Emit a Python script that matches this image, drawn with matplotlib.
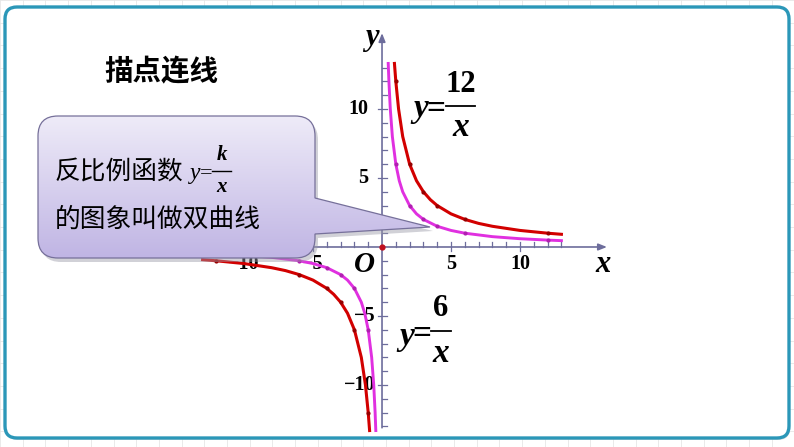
import matplotlib.pyplot as plt
import numpy as np
from matplotlib.patches import FancyBboxPatch, PathPatch
from matplotlib.path import Path

# curve readings (positive branch; negative branch is the mirror)
red_x = [0.9, 1, 1.2, 1.5, 2, 2.5, 3, 3.5, 4, 5, 6, 7, 8, 10, 12, 13]
red_y = [13.3, 12, 10, 8, 6, 4.8, 4, 3.43, 3, 2.4, 2, 1.71, 1.5, 1.2, 1, 0.92]
mag_x = [0.45, 0.5, 0.6, 0.75, 1, 1.25, 1.5, 2, 2.5, 3, 4, 5, 6, 8, 10, 12, 13]
mag_y = [13.3, 12, 10, 8, 6, 4.8, 4, 3, 2.4, 2, 1.5, 1.2, 1, 0.75, 0.6, 0.5, 0.46]
red_dot_x = [1, 2, 3, 4, 6, 12]
red_dot_y = [12, 6, 4, 3, 2, 1]
mag_dot_x = [1, 2, 3, 4, 6, 12]
mag_dot_y = [6, 3, 2, 1.5, 1, 0.5]
tick_vals = list(range(-13, 14))
xlabels = [-10, -5, 5, 10]
ylabels = [10, 5, -5, -10]

RED = '#d20000'
MAG = '#e030e0'
AXC = '#6d6d9c'
SERIF = 'Liberation Serif'
CJK = ['Noto Sans CJK SC', 'DejaVu Sans']

fig = plt.figure(figsize=(7.94, 4.47), dpi=100)

# ---- background (pixel coords) ----
bg = fig.add_axes([0, 0, 1, 1], zorder=0)
bg.set_xlim(0, 794)
bg.set_ylim(447, 0)
bg.axis('off')
for gx in np.arange(0, 794, 22.7):
    bg.axvline(gx, color='#e6e6e6', lw=0.6, zorder=0)
for gy in np.arange(0, 447, 22.7):
    bg.axhline(gy, color='#e6e6e6', lw=0.6, zorder=0)
shadow = FancyBboxPatch((6, 9), 784, 431, boxstyle='round,pad=0,rounding_size=12',
                        facecolor='#c8c8c8', edgecolor='none', alpha=0.6, zorder=1)
bg.add_patch(shadow)
frame = FancyBboxPatch((5, 7), 784, 431, boxstyle='round,pad=0,rounding_size=12',
                       facecolor='white', edgecolor='#2b97b8', lw=2.4, zorder=2)
bg.add_patch(frame)
bg.text(161, 72, '描点连线', family=CJK, fontsize=20.5, fontweight='bold',
        ha='center', va='center', color='black', zorder=3)

# ---- chart (data coords) ----
ax = fig.add_axes([0.2291, 0.0152, 0.5562, 0.9571], zorder=1)
ax.set_xlim(-14.5, 17.5)
ax.set_ylim(-14, 17)
ax.axis('off')

ax.annotate('', xy=(16.5, 0), xytext=(-13.6, 0),
            arrowprops=dict(arrowstyle='-|>,head_length=0.5,head_width=0.2', color=AXC, lw=1.2))
ax.annotate('', xy=(0, 15.7), xytext=(0, -13.3),
            arrowprops=dict(arrowstyle='-|>,head_length=0.5,head_width=0.2', color=AXC, lw=1.2))
for t in tick_vals:
    if t == 0:
        continue
    lo = -0.3 if t % 5 == 0 else 0
    ax.plot([t, t], [lo, 0.36], color=AXC, lw=0.9)
    ax.plot([lo, 0.36], [t, t], color=AXC, lw=0.9)

for v in xlabels:
    lab = str(v).replace('-', '\u2212')
    ax.text(v, -1.2, lab, family=SERIF, fontweight='bold', fontsize=14.5,
            ha='center', va='center')
for v in ylabels:
    lab = str(v).replace('-', '\u2212')
    xr = -1.0 if v > 0 else -0.5
    ax.text(xr, v, lab, family=SERIF, fontweight='bold', fontsize=14.5,
            ha='right', va='center')
ax.text(-1.25, -1.25, 'O', family=SERIF, fontweight='bold', style='italic',
        fontsize=21, ha='center', va='center')
ax.text(16.0, -1.3, 'x', family=SERIF, fontweight='bold', style='italic',
        fontsize=22, ha='center', va='center')
ax.text(-0.75, 15.2, 'y', family=SERIF, fontweight='bold', style='italic',
        fontsize=22, ha='center', va='center')

rx, ry = np.array(red_x), np.array(red_y)
mx, my = np.array(mag_x), np.array(mag_y)
for s in (1, -1):
    ax.plot(s * mx, s * my, color=MAG, lw=2.1, solid_joinstyle='round', zorder=3)
    ax.plot(s * rx, s * ry, color=RED, lw=2.2, solid_joinstyle='round', zorder=3)
    ax.plot(s * np.array(mag_dot_x), s * np.array(mag_dot_y), 'o', color='#b020b0',
            ms=2.0, zorder=4)
    ax.plot(s * np.array(red_dot_x), s * np.array(red_dot_y), 'o', color='#960000',
            ms=2.0, zorder=4)
ax.plot([0], [0], 'o', color='#c01020', ms=3.5, zorder=4)

# ---- overlay (pixel coords) ----
ov = fig.add_axes([0, 0, 1, 1], zorder=2)
ov.set_xlim(0, 794)
ov.set_ylim(447, 0)
ov.axis('off')


def fraction(axh, xc, yc, num, y_gap, fs_y, fs_num, fs_den, bar_x0, bar_w, bar_y):
    axh.text(xc, yc, 'y', family=SERIF, style='italic', fontweight='bold',
             fontsize=fs_y, ha='right', va='center')
    axh.text(xc + 8, bar_y, '=', family=SERIF, fontweight='bold', fontsize=fs_y,
             ha='center', va='center_baseline')
    fx = bar_x0 + bar_w / 2
    axh.plot([bar_x0, bar_x0 + bar_w], [bar_y, bar_y], color='black', lw=1.3)
    axh.text(fx, bar_y - y_gap, num, family=SERIF, fontweight='bold',
             fontsize=fs_num, ha='center', va='center')
    axh.text(fx, bar_y + y_gap, 'x', family=SERIF, style='italic', fontweight='bold',
             fontsize=fs_den, ha='center', va='center')


fraction(ov, 428, 109, '12', 22, 24, 22, 24, 446, 29, 106)
fraction(ov, 414, 336, '6', 22, 24, 22, 24, 431, 20, 331)

# speech bubble
L, R, T, B, r = 38, 315, 116, 258, 20
verts = [(L + r, T), (R - r, T), (R, T), (R, T + r), (R, 198), (430, 227), (R, 234),
         (R, B - r), (R, B), (R - r, B), (L + r, B), (L, B), (L, B - r),
         (L, T + r), (L, T), (L + r, T), (L + r, T)]
codes = [Path.MOVETO, Path.LINETO, Path.CURVE3, Path.CURVE3, Path.LINETO, Path.LINETO,
         Path.LINETO, Path.LINETO, Path.CURVE3, Path.CURVE3, Path.LINETO, Path.CURVE3,
         Path.CURVE3, Path.LINETO, Path.CURVE3, Path.CURVE3, Path.CLOSEPOLY]
bubble = Path(verts, codes)
sh = Path(np.array(verts) + np.array([3, 4]), codes)
ov.add_patch(PathPatch(sh, facecolor='#9a9aa8', edgecolor='none', alpha=0.45))
body = PathPatch(bubble, facecolor='none', edgecolor='none')
ov.add_patch(body)
top_c = np.array([238, 235, 248]) / 255
bot_c = np.array([192, 181, 228]) / 255
t = np.linspace(0, 1, 100)[:, None, None]
grad = top_c * (1 - t) + bot_c * t
grad = np.repeat(grad, 2, axis=1)
im = ov.imshow(grad, extent=(L, 431, B, T), aspect='auto', origin='upper', zorder=2)
im.set_clip_path(body)
ov.add_patch(PathPatch(bubble, facecolor='none', edgecolor='#76709a', lw=0.9, zorder=3))
ov.set_xlim(0, 794)
ov.set_ylim(447, 0)

ov.text(55, 172, '反比例函数', family=CJK, fontsize=18.5, ha='left', va='center', zorder=4)
ov.text(55, 220, '的图象叫做双曲线', family=CJK, fontsize=18.5, ha='left', va='center', zorder=4)
ov.text(200, 173, 'y', family=SERIF, style='italic', fontsize=17, ha='right', va='center', zorder=4)
ov.text(206, 171, '=', family=SERIF, fontsize=16, ha='center', va='center_baseline', zorder=4)
ov.plot([212, 231], [171, 171], color='black', lw=1.0, zorder=4)
ov.text(222, 155, 'k', family=SERIF, style='italic', fontweight='bold', fontsize=15,
        ha='center', va='center', zorder=4)
ov.text(222, 187, 'x', family=SERIF, style='italic', fontweight='bold', fontsize=15,
        ha='center', va='center', zorder=4)

fig.savefig('out.png', dpi=100)
